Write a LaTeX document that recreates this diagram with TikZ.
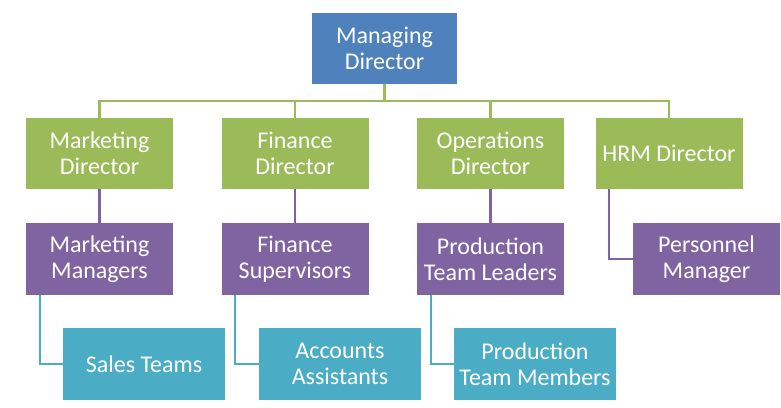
\documentclass[tikz,border=0pt]{standalone}
\usepackage{fontspec}
\setmainfont{Carlito}
\definecolor{mdblue}{HTML}{4F81BD}
\definecolor{dirgreen}{HTML}{9BBB59}
\definecolor{mgrpurple}{HTML}{8064A2}
\definecolor{teamcyan}{HTML}{4BACC6}
\begin{document}
\begin{tikzpicture}[x=1pt, y=-1pt,
    box/.style={rectangle, text=white, align=center, inner sep=2pt,
      font=\fontsize{24}{25.6}\selectfont, minimum height=71pt},
    mdbox/.style={box, fill=mdblue, minimum width=145pt},
    dirbox/.style={box, fill=dirgreen, minimum width=147pt},
    mgrbox/.style={box, fill=mgrpurple, minimum width=147pt, minimum height=72pt},
    teambox/.style={box, fill=teamcyan, minimum width=162pt, minimum height=72pt},
    link/.style={line width=2.2pt}]
  \useasboundingbox (0,0) rectangle (781,407);
  % top
  \node[mdbox] (md) at (384.5,48.5) {Managing\\Director};
  % directors
  \node[dirbox] (mkd) at (99.5,153.5) {Marketing\\Director};
  \node[dirbox] (fid) at (295,153.5) {Finance\\Director};
  \node[dirbox] (opd) at (490.5,153.5) {Operations\\Director};
  \node[dirbox] (hrd) at (669,153.5) {HRM Director};
  % managers
  \node[mgrbox] (mkm) at (99.5,259) {Marketing\\Managers};
  \node[mgrbox] (fis) at (295,259) {Finance\\Supervisors};
  \node[mgrbox] (ptl) at (490.5,259) {Production\\Team Leaders};
  \node[mgrbox] (pem) at (706.5,259) {Personnel\\Manager};
  % teams
  \node[teambox] (sat) at (144,364) {Sales Teams};
  \node[teambox] (aca) at (340,364) {Accounts\\Assistants};
  \node[teambox] (ptm) at (535,364) {Production\\Team Members};
  % connectors
  \coordinate (bus) at (0,101);
  \draw[link, dirgreen] (md.south) -- (md.south |- bus);
  \draw[link, dirgreen, line cap=rect] (mkd.north |- bus) -- (hrd.north |- bus);
  \foreach \d in {mkd, fid, opd, hrd}
    \draw[link, dirgreen] (\d.north) -- (\d.north |- bus);
  \draw[link, mgrpurple] (mkd.south) -- (mkm.north);
  \draw[link, mgrpurple] (fid.south) -- (fis.north);
  \draw[link, mgrpurple] (opd.south) -- (ptl.north);
  \draw[link, mgrpurple] ([xshift=13.5pt]hrd.south west) |- (pem.west);
  \draw[link, teamcyan] ([xshift=14pt]mkm.south west) |- (sat.west);
  \draw[link, teamcyan] ([xshift=14pt]fis.south west) |- (aca.west);
  \draw[link, teamcyan] ([xshift=14pt]ptl.south west) |- (ptm.west);
\end{tikzpicture}
\end{document}
